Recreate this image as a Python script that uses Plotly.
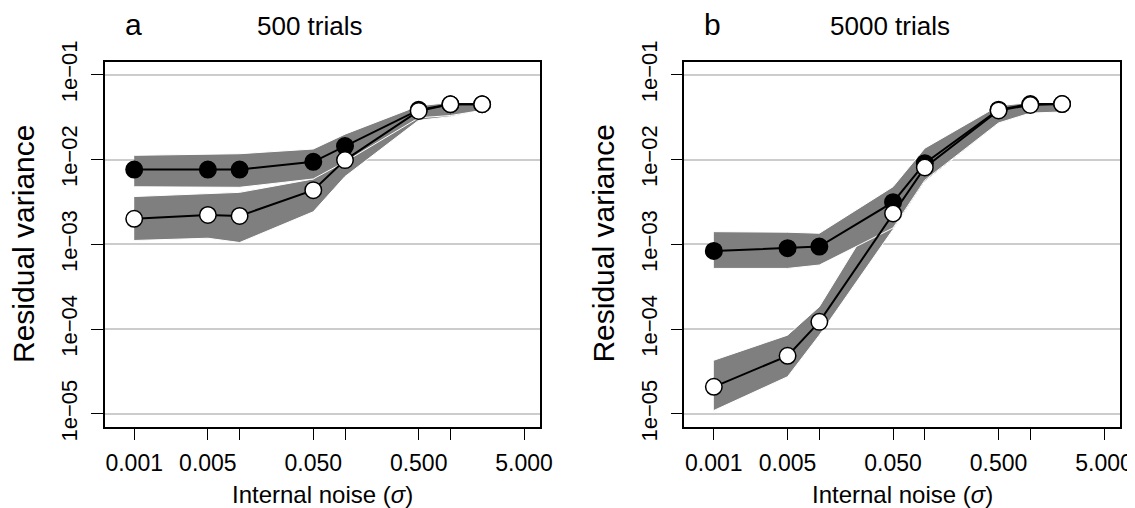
import plotly.graph_objects as go

# ---------------- data ----------------
noise = [0.001, 0.005, 0.01, 0.05, 0.1, 0.5, 1, 2]

# panel a: 500 trials
a_filled = [0.0076, 0.0076, 0.0076, 0.0094, 0.0144, 0.0385, 0.0448, 0.0448]
a_open = [0.0020, 0.00222, 0.00216, 0.00435, 0.00984, 0.0374, 0.0448, 0.0448]
a_filled_hi = [0.0112, 0.0114, 0.0117, 0.0133, 0.0199, 0.043, 0.047, 0.047]
a_filled_lo = [0.00477, 0.0047, 0.0047, 0.0059, 0.0094, 0.031, 0.033, 0.038]
a_open_hi = [0.00366, 0.0040, 0.0041, 0.0059, 0.012, 0.040, 0.046, 0.047]
a_open_lo = [0.00111, 0.00118, 0.00105, 0.00242, 0.0063, 0.029, 0.032, 0.038]

# panel b: 5000 trials
b_filled = [0.000836, 0.0009, 0.00094, 0.00314, 0.00906, 0.0387, 0.045, 0.045]
b_open = [2.09e-5, 4.85e-5, 1.22e-4, 0.00231, 0.00805, 0.0379, 0.0439, 0.0451]
b_filled_hi = [0.00141, 0.00139, 0.00135, 0.00478, 0.0136, 0.043, 0.047, 0.047]
b_filled_lo = [0.00052, 0.00052, 0.00057, 0.00156, 0.0057, 0.027, 0.0353, 0.0363]
b_open_hi = [4.3e-5, 8.5e-5, 1.84e-4, 0.0048, 0.0136, 0.043, 0.047, 0.047]
b_open_lo = [1.1e-5, 2.75e-5, 8.5e-5, 0.0015, 0.0055, 0.027, 0.035, 0.036]

x_tickvals = [0.001, 0.005, 0.01, 0.05, 0.1, 0.5, 1, 5]
x_ticktext = ["0.001", "0.005", "", "0.050", "", "0.500", "", "5.000"]
y_tickvals = [1e-5, 1e-4, 1e-3, 1e-2, 1e-1]
y_ticktext = ["1e\u221205", "1e\u221204", "1e\u221203", "1e\u221202", "1e\u221201"]

panel_letters = ["a", "b"]
panel_titles = ["500 trials", "5000 trials"]
x_title = "Internal noise (<i>\u03c3</i>)"
y_title = "Residual variance"

# ---------------- layout helpers ----------------
# the page body has an 8px default margin, so the figure is drawn 8px
# smaller and all target pixel positions are shifted by that offset
OFF = 8
W, H = 1135 - OFF, 508 - OFF
FONT = "Liberation Sans, Arial, Helvetica, sans-serif"
BAND = "#7f7f7f"


def fx(px):
    return (px - OFF) / W


def fy(py):
    return 1 - (py - OFF) / H


fig = go.Figure()


def band(lo, hi, xa, ya):
    fig.add_trace(go.Scatter(
        x=noise + noise[::-1], y=hi + lo[::-1],
        mode="lines", fill="toself", fillcolor=BAND,
        line=dict(color="white", width=1),
        xaxis=xa, yaxis=ya, hoverinfo="skip", showlegend=False))


def series(y, face, xa, ya):
    fig.add_trace(go.Scatter(
        x=noise, y=y, mode="lines+markers",
        line=dict(color="black", width=2),
        marker=dict(size=16.5, color=face, line=dict(color="black", width=1.5)),
        xaxis=xa, yaxis=ya, showlegend=False))


band(a_open_lo, a_open_hi, "x", "y")
band(a_filled_lo, a_filled_hi, "x", "y")
series(a_filled, "black", "x", "y")
series(a_open, "white", "x", "y")

band(b_open_lo, b_open_hi, "x2", "y2")
band(b_filled_lo, b_filled_hi, "x2", "y2")
series(b_filled, "black", "x2", "y2")
series(b_open, "white", "x2", "y2")

x_common = dict(
    type="log", range=[-3.28, 0.85], automargin=False,
    tickmode="array", tickvals=x_tickvals, ticktext=x_ticktext,
    ticks="outside", ticklen=12, tickwidth=1.3, tickcolor="black",
    showline=True, linecolor="black", linewidth=1.5, mirror=True,
    showgrid=False, zeroline=False,
    tickfont=dict(family=FONT, size=23, color="black"),
    ticklabelstandoff=3,
)
y_common = dict(
    type="log", range=[-5.15, -0.847], automargin=False,
    tickmode="array", tickvals=y_tickvals, ticktext=y_ticktext,
    ticks="outside", ticklen=12, tickwidth=1.3, tickcolor="black",
    tickangle=-90,
    showline=True, linecolor="black", linewidth=1.5, mirror=True,
    showgrid=True, gridcolor="#cccccc", gridwidth=1.5,
    zeroline=False,
    tickfont=dict(family=FONT, size=22, color="black"),
    ticklabelstandoff=5,
)

dom_y = [fy(426.7), fy(61.7)]
panels_px = [(104.7, 540.0), (684.3, 1120.0)]

fig.update_layout(
    template="none",
    width=W, height=H,
    margin=dict(l=0, r=0, t=0, b=0, pad=0),
    paper_bgcolor="white", plot_bgcolor="white",
    font=dict(family=FONT, color="black"),
    showlegend=False,
    xaxis=dict(x_common, domain=[fx(panels_px[0][0]), fx(panels_px[0][1])], anchor="y"),
    yaxis=dict(y_common, domain=dom_y, anchor="x"),
    xaxis2=dict(x_common, domain=[fx(panels_px[1][0]), fx(panels_px[1][1])], anchor="y2"),
    yaxis2=dict(y_common, domain=dom_y, anchor="x2"),
)

annotations = []
offsets = [0.0, 579.6]
for i, off in enumerate(offsets):
    annotations.append(dict(text=panel_letters[i], x=fx(133 + off), y=fy(24),
                            xref="paper", yref="paper", showarrow=False,
                            xanchor="center", yanchor="middle",
                            font=dict(family=FONT, size=30, color="black")))
    annotations.append(dict(text=panel_titles[i], x=fx(310 + off), y=fy(26),
                            xref="paper", yref="paper", showarrow=False,
                            xanchor="center", yanchor="middle",
                            font=dict(family=FONT, size=26, color="black")))
    annotations.append(dict(text=x_title, x=fx((panels_px[i][0] + panels_px[i][1]) / 2), y=fy(494),
                            xref="paper", yref="paper", showarrow=False,
                            xanchor="center", yanchor="middle",
                            font=dict(family=FONT, size=24, color="black")))
    annotations.append(dict(text=y_title, x=fx(23 + off), y=fy(244),
                            xref="paper", yref="paper", showarrow=False,
                            xanchor="center", yanchor="middle", textangle=-90,
                            font=dict(family=FONT, size=30, color="black")))
fig.update_layout(annotations=annotations)

fig.write_html("out.html")
